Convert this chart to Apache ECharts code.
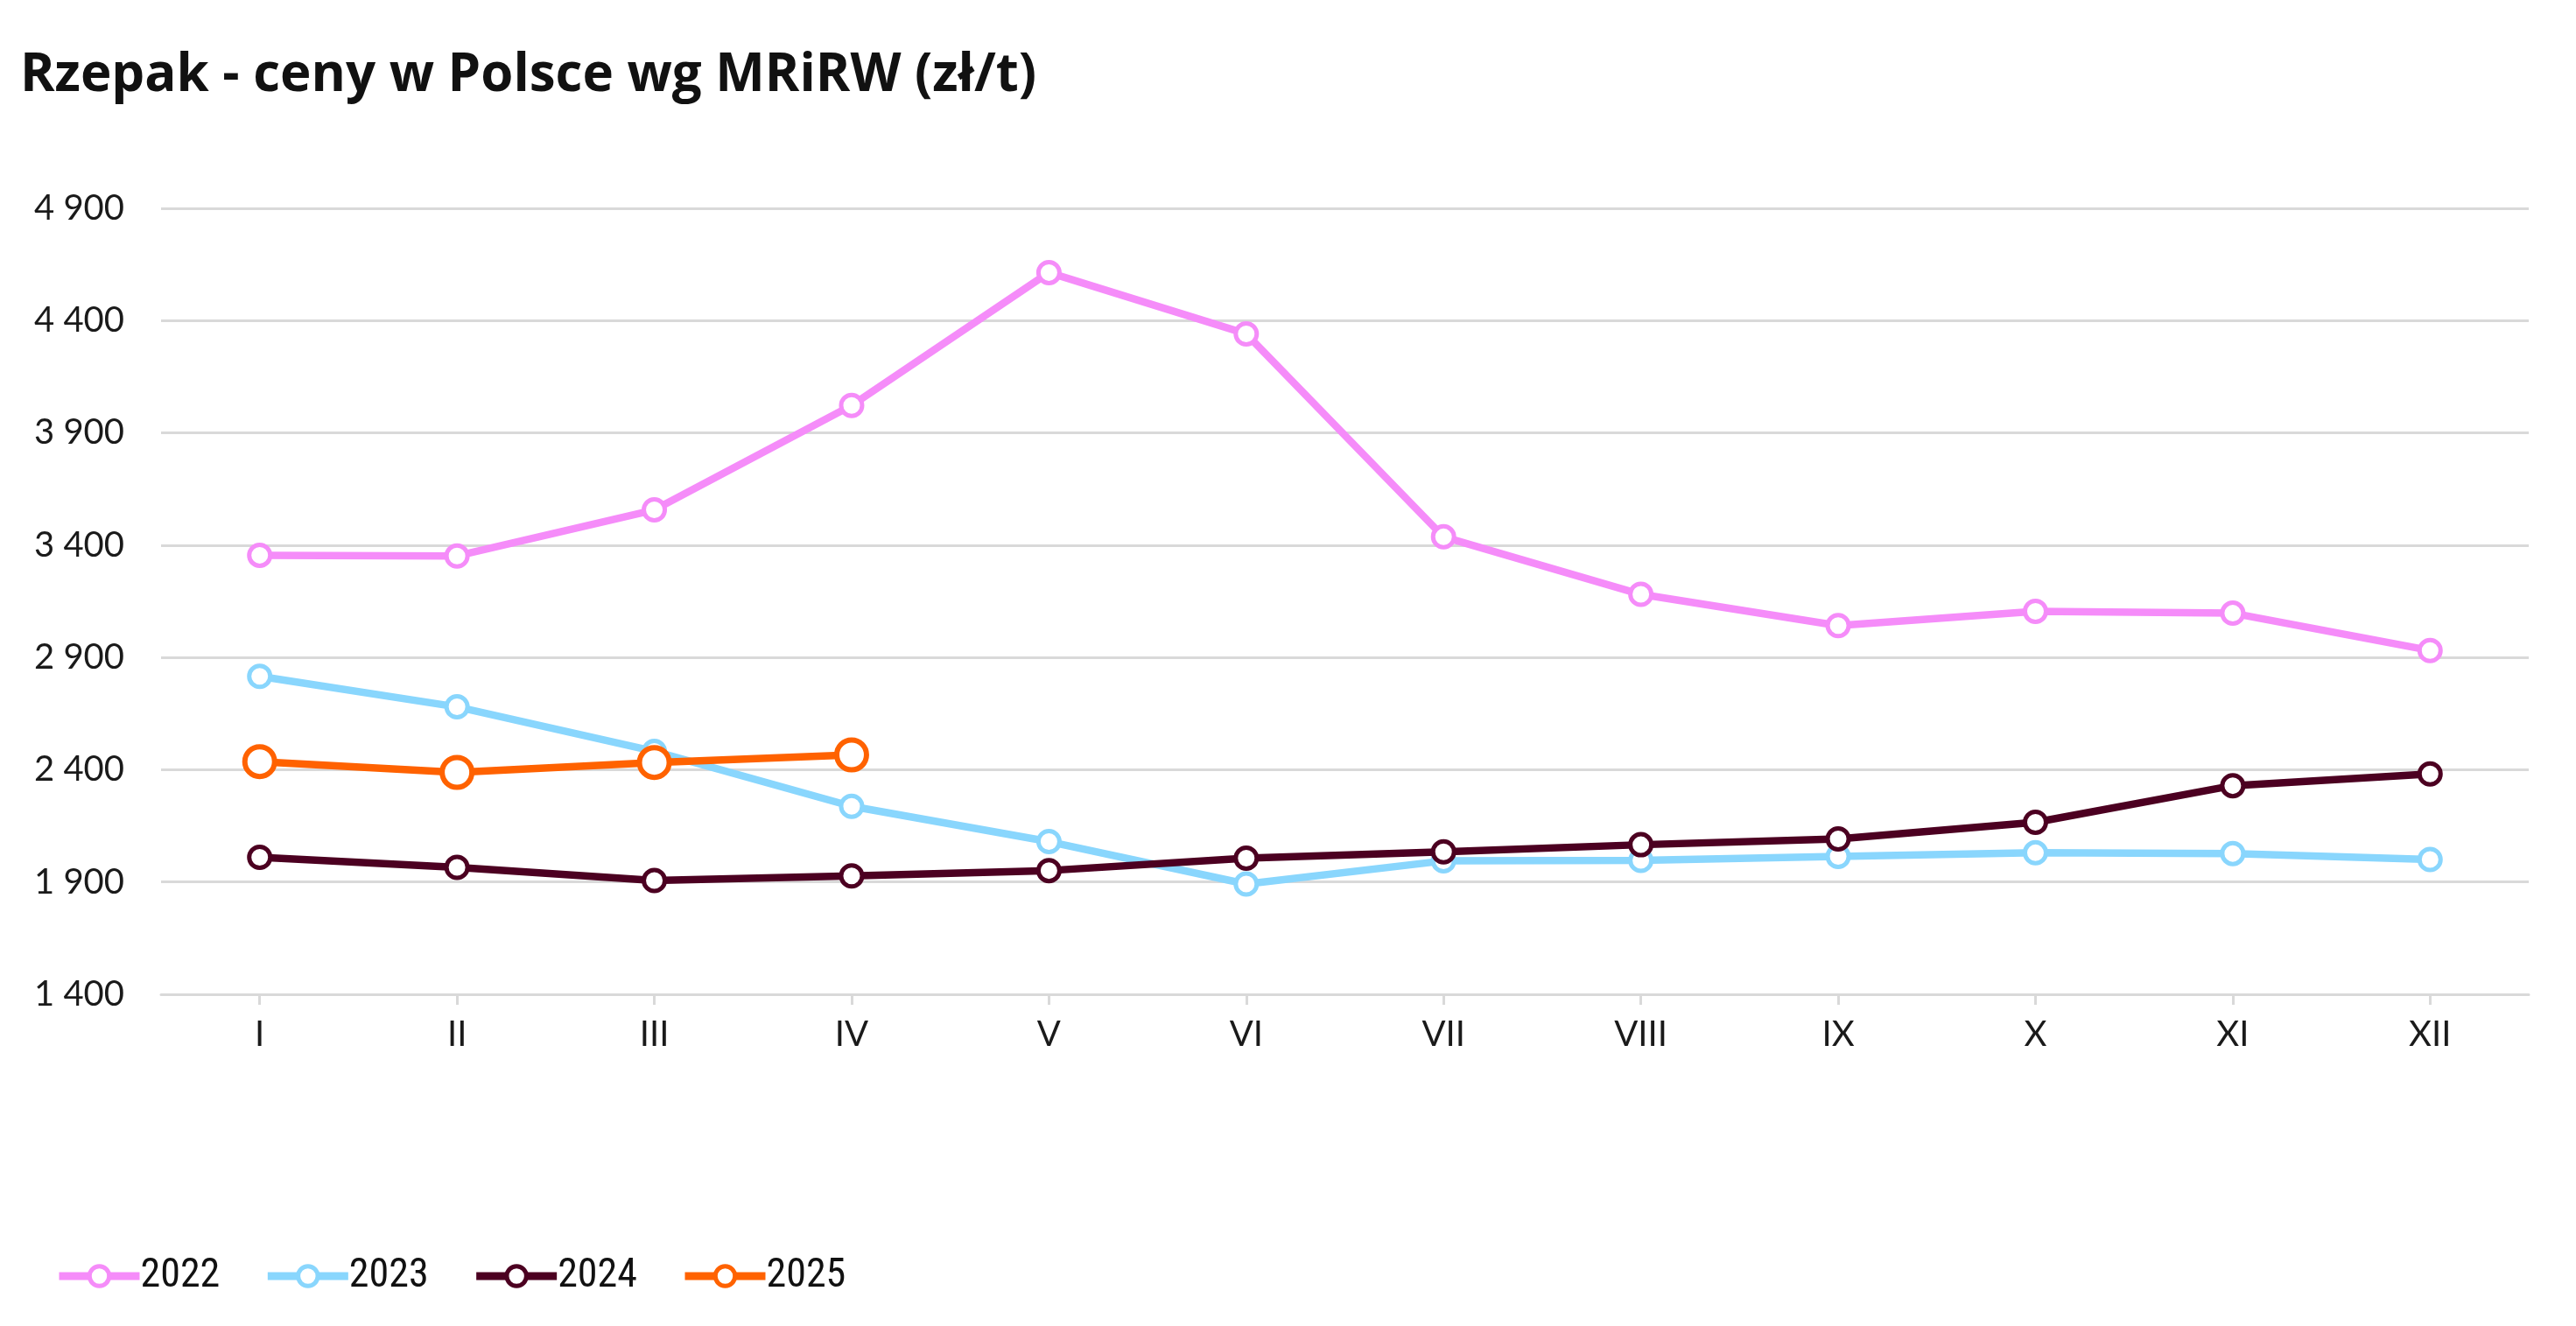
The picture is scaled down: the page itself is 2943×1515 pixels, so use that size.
<!DOCTYPE html>
<html>
<head>
<meta charset="utf-8">
<script src="https://cdn.jsdelivr.net/npm/echarts@6/dist/echarts.min.js"></script>
<style>
html,body{margin:0;padding:0;background:#fff;}
#chart{width:2943px;height:1515px;}
</style>
</head>
<body>
<div id="chart"></div>
<script>
const titleText = 'Rzepak - ceny w Polsce wg MRiRW (zł/t)';
const categories = ['I','II','III','IV','V','VI','VII','VIII','IX','X','XI','XII'];
const seriesNames = ['2022','2023','2024','2025'];
const values2022 = [3355, 3352, 3557, 4022, 4614, 4341, 3437, 3181, 3042, 3105, 3097, 2931];
const values2023 = [2816, 2680, 2482, 2237, 2080, 1891, 1994, 1996, 2014, 2030, 2027, 2000];
const values2024 = [2010, 1965, 1907, 1927, 1951, 2006, 2034, 2066, 2092, 2166, 2329, 2381];
const values2025 = [2436, 2388, 2432, 2466];
const yMin = 1400, yMax = 4900, yStep = 500;

const colors = ['#F58CF9', '#89D6FD', '#4C0021', '#FF6200'];
const allValues = [values2022, values2023, values2024, values2025];
const symbolSizes = [24, 24, 24, 34];
const borderWidths = [5, 5, 5, 6];

const chart = echarts.init(document.getElementById('chart'));
const fmt = v => String(v).replace(/\B(?=(\d{3})+(?!\d))/g, ' ');

chart.setOption({
  animation: false,
  backgroundColor: '#ffffff',
  title: {
    text: titleText,
    left: 18,
    top: 52,
    textStyle: {fontFamily: 'Open Sans', fontWeight: 'bold', fontSize: 60, color: '#111111'}
  },
  legend: {
    data: seriesNames,
    left: 58,
    top: 1430,
    itemWidth: 92,
    itemHeight: 28,
    itemGap: 50,
    lineStyle: {width: 9},
    itemStyle: {borderWidth: 5},
    textStyle: {fontFamily: 'Roboto Condensed, Roboto', fontSize: 46, color: '#111111', padding: [0,0,0,-4]}
  },
  grid: {left: 184, right: 54, top: 238, bottom: 379, containLabel: false},
  xAxis: {
    type: 'category',
    data: categories,
    boundaryGap: true,
    axisLine: {lineStyle: {color: '#d9d9d9', width: 3}},
    axisTick: {show: true, alignWithLabel: true, length: 12, lineStyle: {color: '#d9d9d9', width: 3}},
    axisLabel: {fontFamily: 'Lato', fontSize: 40, color: '#1a1a1a', margin: 26}
  },
  yAxis: {
    type: 'value',
    min: yMin,
    max: yMax,
    interval: yStep,
    axisLine: {show: false},
    axisTick: {show: false},
    splitLine: {lineStyle: {color: '#d9d9d9', width: 3}},
    axisLabel: {fontFamily: 'Lato', fontSize: 40, color: '#1a1a1a', margin: 42, formatter: fmt}
  },
  series: seriesNames.map((name, i) => ({
    name: name,
    type: 'line',
    data: allValues[i],
    symbol: 'circle',
    symbolSize: symbolSizes[i],
    showAllSymbol: true,
    lineStyle: {color: colors[i], width: 8.5},
    itemStyle: {color: '#ffffff', borderColor: colors[i], borderWidth: borderWidths[i]},
    emphasis: {disabled: true},
    z: 2 + i
  }))
});
</script>
</body>
</html>
